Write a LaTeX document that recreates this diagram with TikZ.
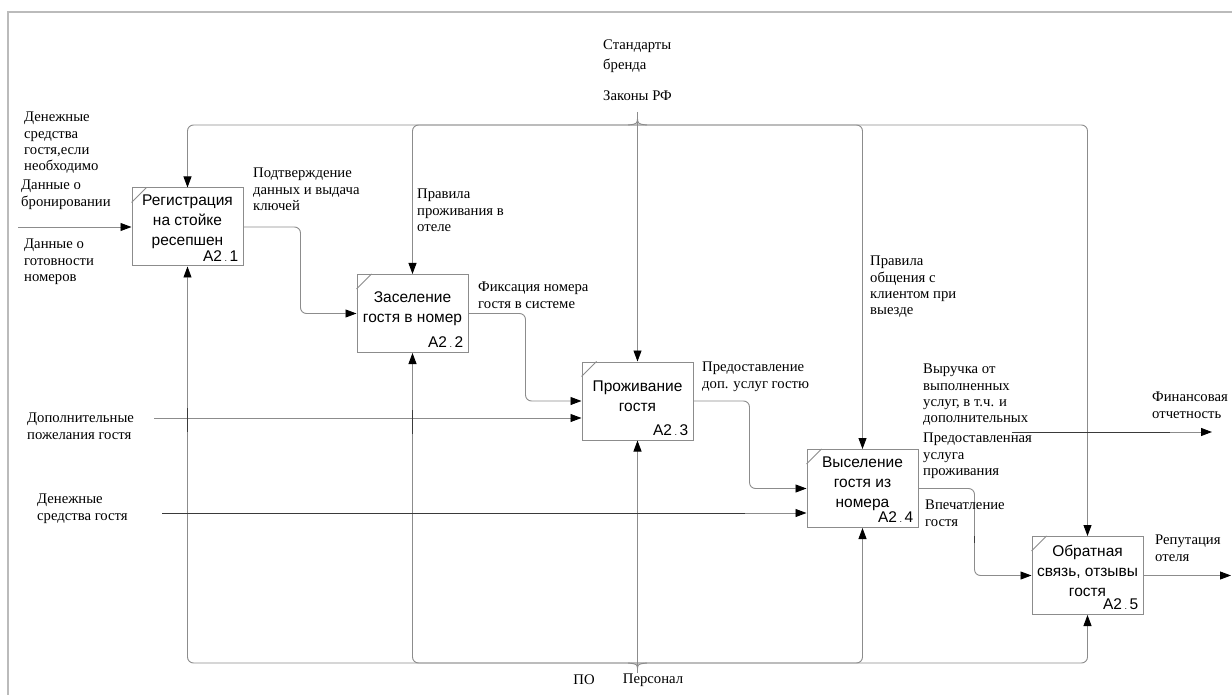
\documentclass[tikz,border=0pt]{standalone}
\usepackage{fontspec}
\setmainfont{Liberation Serif}
\newfontfamily\boxfont{Liberation Sans}
\usetikzlibrary{arrows.meta,calc}
\definecolor{lncol}{HTML}{8C8C8C}
\definecolor{frmcol}{HTML}{BBBBBB}
\definecolor{darkln}{HTML}{3A3A3A}
\begin{document}
\begin{tikzpicture}[x=1pt,y=-1pt,
 fbox/.style={draw=lncol, line width=1pt, minimum width=111pt, minimum height=78pt, inner sep=0pt},
 btext/.style={font=\boxfont\fontsize{15.5}{20}\selectfont, align=center, inner sep=0pt},
 bnum/.style={font=\boxfont\fontsize{15.5}{20}\selectfont, inner sep=0pt, anchor=south east},
 lab/.style={font=\fontsize{14.7}{16.3}\selectfont, align=left, anchor=north west, inner sep=0pt},
 conn/.style={draw=lncol, line width=0.9pt, rounded corners=6pt},
 arr/.style={conn, -{Triangle[length=11pt,width=8pt,color=black]}},
 tick/.style={draw=darkln, line width=1pt},
]
\useasboundingbox (0,0) rectangle (1232,695);
% frame
\draw[frmcol, line width=2pt] (1232,12) -- (7.5,12) -- (7.5,695);

% boxes
\node[fbox] (b1) at (187.5,227) {};
\node[fbox] (b2) at (412.5,313.5) {};
\node[fbox] (b3) at (637.5,401) {};
\node[fbox] (b4) at (862.5,488.5) {};
\node[fbox] (b5) at (1087.5,575.5) {};
\foreach \b in {b1,b2,b3,b4,b5}{
  \draw[lncol, line width=0.8pt] ([yshift=-15pt]\b.north west) -- ([xshift=15pt]\b.north west);
}
\node[btext] (t1) at ([yshift=5pt]b1.center) {Регистрация\\на стойке\\ресепшен};
\node[btext] (t2) at ([yshift=5pt]b2.center) {Заселение\\гостя в номер};
\node[btext] (t3) at ([yshift=5pt]b3.center) {Проживание\\гостя};
\node[btext] (t4) at ([yshift=5pt]b4.center) {Выселение\\гостя из\\номера};
\node[btext] (t5) at ([yshift=5pt]b5.center) {Обратная\\связь, отзывы\\гостя};
\node[bnum] (n1) at ([xshift=-5pt,yshift=5pt]b1.south east) {A2\,{\fontsize{9}{9}\selectfont.}\,1};
\node[bnum] (n2) at ([xshift=-5pt,yshift=5pt]b2.south east) {A2\,{\fontsize{9}{9}\selectfont.}\,2};
\node[bnum] (n3) at ([xshift=-5pt,yshift=5pt]b3.south east) {A2\,{\fontsize{9}{9}\selectfont.}\,3};
\node[bnum] (n4) at ([xshift=-5pt,yshift=5pt]b4.south east) {A2\,{\fontsize{9}{9}\selectfont.}\,4};
\node[bnum] (n5) at ([xshift=-5pt,yshift=5pt]b5.south east) {A2\,{\fontsize{9}{9}\selectfont.}\,5};

% control bus
\coordinate (lawtop) at (637.5,112);
\coordinate (cbus) at (637.5,125);
\draw[arr] (lawtop) -- (b3.north);
\draw[arr] (cbus) -| (b1.north);
\draw[arr] (cbus) -| (b2.north);
\draw[arr] (cbus) -| (b4.north);
\draw[arr] (cbus) -| (b5.north);
\draw[lncol, line width=0.9pt] (637.5,116) .. controls (637.5,124) .. (628,125);
\draw[lncol, line width=0.9pt] (637.5,116) .. controls (637.5,124) .. (647,125);

% mechanism bus
\coordinate (mbot) at (637.5,673);
\coordinate (mbus) at (637.5,663);
\draw[arr] (mbot) -- (b3.south);
\draw[arr] (mbus) -| (b1.south);
\draw[arr] (mbus) -| (b2.south);
\draw[arr] (mbus) -| (b4.south);
\draw[arr] (mbus) -| (b5.south);
\draw[lncol, line width=0.9pt] (637.5,671) .. controls (637.5,664) .. (628,663);
\draw[lncol, line width=0.9pt] (637.5,671) .. controls (637.5,664) .. (647,663);

% inputs
\coordinate (i1) at (18,227);
\draw[arr] (i1) -- (b1.west);
\coordinate (i3) at (154,418);
\draw[arr] (i3) -- (i3 -| b3.west);
\coordinate (i4) at (162,513);
\coordinate (i4d) at (745,513);
\draw[arr] (i4) -- (i4 -| b4.west);
\draw[darkln, line width=0.9pt] (i4) -- (i4d);

% outputs between boxes
\draw[arr] (b1.east) -- ++(57,0) |- (b2.west);
\draw[arr] (b2.east) -- ++(57,0) |- (b3.west);
\draw[arr] (b3.east) -- ++(56,0) |- (b4.west);
\draw[arr] (b4.east) -- ++(56,0) |- (b5.west);

% final outputs
\coordinate (o5) at (1231,575.5);
\draw[arr] (b5.east) -- (o5);
\coordinate (f1) at (1012,432);
\coordinate (f2) at (1212,432);
\draw[arr] (f1) -- (f2);
\draw[darkln, line width=0.9pt] (f1) -- (1170,432);

% crossing ticks
\draw[tick] (187.5,408) -- (187.5,432);
\draw[tick] (412.5,410) -- (412.5,434);
\draw[tick] (974,536) -- (974,543);

% labels
\node[lab] (l1) at (24,112) {Денежные\\средства\\гостя,если\\необходимо};
\node[lab] (l2) at (21,180) {Данные о\\бронировании};
\node[lab] (l3) at (24,239) {Данные о\\готовности\\номеров};
\node[lab] (l4) at (253,168) {Подтверждение\\данных и выдача\\ключей};
\node[lab, font=\fontsize{14.7}{20}\selectfont] (l5) at (603,40) {Стандарты\\бренда};
\node[lab] (l6) at (603,91) {Законы РФ};
\node[lab] (l7) at (417,189) {Правила\\проживания в\\отеле};
\node[lab] (l8) at (478,282) {Фиксация номера\\гостя в системе};
\node[lab] (l9) at (870,256) {Правила\\общения с\\клиентом при\\выезде};
\node[lab] (l10) at (702,362) {Предоставление\\доп. услуг гостю};
\node[lab] (l11) at (27,413) {Дополнительные\\пожелания гостя};
\node[lab] (l12) at (37,494) {Денежные\\средства гостя};
\node[lab] (l13) at (923,364) {Выручка от\\выполненных\\услуг, в т.ч. и\\дополнительных};
\node[lab] (l14) at (923,433) {Предоставленная\\услуга\\проживания};
\node[lab] (l15) at (1152,392) {Финансовая\\отчетность};
\node[lab] (l16) at (925,500) {Впечатление\\гостя};
\node[lab] (l17) at (1155,535) {Репутация\\отеля};
\node[lab, anchor=center] (l18) at (584,680) {ПО};
\node[lab, anchor=center] (l19) at (653,680) {Персонал};
\end{tikzpicture}
\end{document}
